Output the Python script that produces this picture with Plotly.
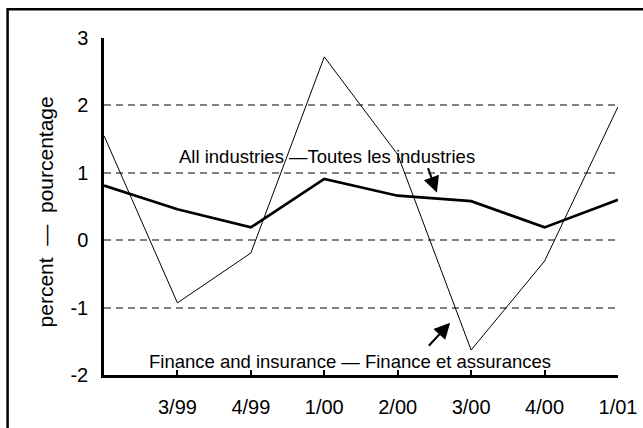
import plotly.graph_objects as go

# quarterly % change
quarters = ["2/99", "3/99", "4/99", "1/00", "2/00", "3/00", "4/00", "1/01"]
all_industries = [0.81, 0.46, 0.19, 0.91, 0.66, 0.58, 0.19, 0.60]
finance = [1.55, -0.93, -0.19, 2.72, 1.27, -1.63, -0.31, 1.98]

y_ticks = [-2, -1, 0, 1, 2, 3]
y_labels = ["-2", "-1", "0", "1", "2", "3"]

W, H = 643, 428
L, R, T, B = 103.5, 25, 38.3, 53
pw, ph = W - L - R, H - T - B


def px_to_paper(px, py):
    return (px - L) / pw, (H - B - py) / ph


fig = go.Figure()

fig.add_trace(go.Scatter(
    x=quarters, y=finance, mode='lines',
    line=dict(color='black', width=1), name='Finance and insurance'
))
fig.add_trace(go.Scatter(
    x=quarters, y=all_industries, mode='lines',
    line=dict(color='black', width=2.7), name='All industries'
))

annotations = []
# series labels
for text, (cx, cy) in [
    ("All industries —Toutes les industries", (326.7, 157)),
    ("Finance and insurance — Finance et assurances", (349.5, 362)),
]:
    x, y = px_to_paper(cx, cy)
    annotations.append(dict(
        text=text, x=x, y=y, xref='paper', yref='paper',
        xanchor='center', yanchor='middle', showarrow=False,
        font=dict(family="Liberation Sans, Arial", size=18.5, color='black')
    ))

# pointer arrows (head, tail) in pixels
for (hx, hy), (tx, ty) in [
    ((436.7, 192.7), (427.3, 166.7)),
    ((450.0, 322.7), (427.3, 347.3)),
]:
    x, y = px_to_paper(hx, hy)
    annotations.append(dict(
        text='', x=x, y=y, xref='paper', yref='paper',
        ax=tx - hx, ay=ty - hy, axref='pixel', ayref='pixel',
        showarrow=True, arrowhead=2, arrowsize=1.6, arrowwidth=2,
        arrowcolor='black', standoff=0
    ))

# y axis title
x, y = px_to_paper(45, 212)
annotations.append(dict(
    text="percent  —  pourcentage", x=x, y=y, xref='paper', yref='paper',
    xanchor='center', yanchor='middle', showarrow=False, textangle=-90,
    font=dict(family="Liberation Sans, Arial", size=21, color='black')
))

# outer frame (only top and left edges fall inside the picture)
x0, y0 = px_to_paper(7, 9.5)
x1, y1 = px_to_paper(W + 20, H + 20)

fig.update_layout(
    width=W, height=H,
    margin=dict(l=L, r=R, t=T, b=B, pad=0),
    paper_bgcolor='white', plot_bgcolor='white',
    showlegend=False,
    font=dict(family="Liberation Sans, Arial", size=20, color='black'),
    annotations=annotations,
    shapes=[dict(type='rect', xref='paper', yref='paper',
                 x0=x0, y0=y1, x1=x1, y1=y0,
                 line=dict(color='black', width=2.5), layer='above')],
    xaxis=dict(
        type='category', range=[0, 7], automargin=False,
        tickvals=quarters[1:], ticktext=quarters[1:],
        ticks='inside', ticklen=5, tickwidth=1.5, tickcolor='black',
        showline=True, linecolor='black', linewidth=2.5,
        showgrid=False, zeroline=False, ticklabelstandoff=12,
        tickfont=dict(size=20)
    ),
    yaxis=dict(
        range=[-2, 3], tickvals=y_ticks, ticktext=y_labels, automargin=False,
        ticks='', showline=True, linecolor='black', linewidth=2.5,
        showgrid=True, gridcolor='#808080', gridwidth=1.5,
        griddash='7px,5px', zeroline=False, ticklabelstandoff=9,
        tickfont=dict(size=20)
    ),
)

fig.write_html(
    "out.html",
    config={'displayModeBar': False},
    post_script="document.body.style.margin='0';document.body.style.overflow='hidden';"
)
